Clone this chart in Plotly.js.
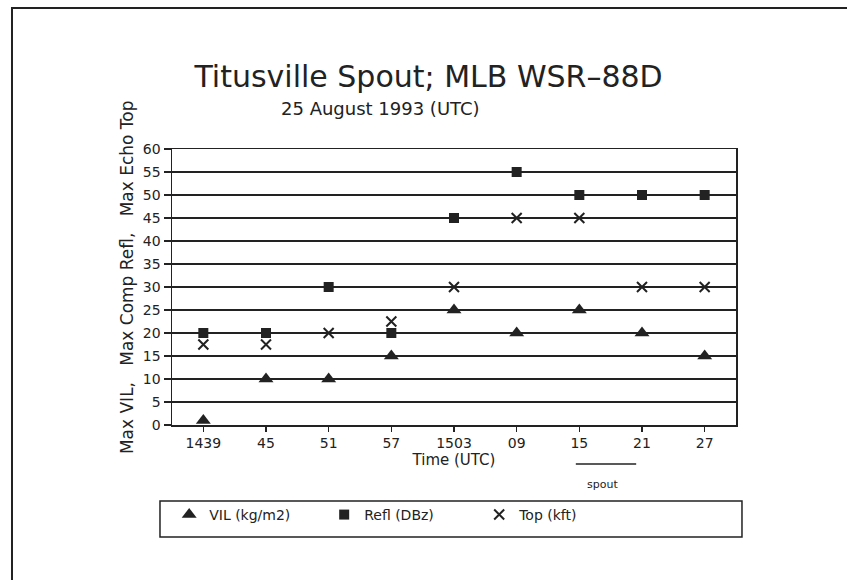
<!DOCTYPE html>
<html>
<head>
<meta charset="utf-8">
<script src="https://cdn.plot.ly/plotly-3.0.1.min.js"></script>
<style>html,body{margin:0;padding:0;background:#fff;}#chart{width:847px;height:580px;}</style>
</head>
<body>
<div id="chart"></div>
<script>
// Data
const times = ['1439', '45', '51', '57', '1503', '09', '15', '21', '27'];
const vil   = [1, 10, 10, 15, 25, 20, 25, 20, 15];
const refl  = [20, 20, 30, 20, 45, 55, 50, 50, 50];
const topKft = [17.5, 17.5, 20, 22.5, 30, 45, 45, 30, 30];
const yTicks = [0, 5, 10, 15, 20, 25, 30, 35, 40, 45, 50, 55, 60];

const ink = '#222';
const FONT = 'DejaVu Sans, sans-serif';
const sp = '\u00a0';

const traces = [
  {x: times, y: vil, name: 'VIL (kg/m2)', type: 'scatter', mode: 'markers',
   marker: {symbol: 'triangle-up', size: 13, color: ink}},
  {x: times, y: refl, name: 'Refl (DBz)', type: 'scatter', mode: 'markers',
   marker: {symbol: 'square', size: 10, color: ink}},
  {x: times, y: topKft, name: 'Top (kft)', type: 'scatter', mode: 'markers',
   marker: {symbol: 'x-thin', size: 10, color: ink, line: {width: 2, color: ink}}}
];

const layout = {
  width: 847, height: 580,
  margin: {l: 172, r: 111, t: 149, b: 155},
  paper_bgcolor: '#fff', plot_bgcolor: '#fff',
  font: {family: FONT, color: ink, size: 14},
  title: {text: 'Titusville Spout; MLB WSR\u201388D', font: {size: 30, family: FONT, color: ink},
          x: 0.506, xanchor: 'center', y: 0.868, yanchor: 'middle', xref: 'container', yref: 'container'},
  showlegend: true,
  legend: {orientation: 'h', x: -0.005, xanchor: 'left', y: -0.326, yanchor: 'middle',
           bgcolor: 'rgba(0,0,0,0)', borderwidth: 0, font: {size: 14, family: FONT, color: ink},
           entrywidth: 110, entrywidthmode: 'pixels'},
  xaxis: {type: 'category', categoryorder: 'array', categoryarray: times,
          range: [-0.5, 8.5], showgrid: false, zeroline: false,
          showline: true, linecolor: ink, linewidth: 1.5, mirror: true,
          ticks: 'outside', ticklen: 5, tickwidth: 1.3, tickcolor: ink,
          tickfont: {size: 14, family: FONT, color: ink},
          title: {text: 'Time (UTC)', font: {size: 15, family: FONT, color: ink}, standoff: 0}},
  yaxis: {range: [0, 60], tickvals: yTicks, showgrid: true, gridcolor: ink, gridwidth: 1.3,
          zeroline: false, showline: true, linecolor: ink, linewidth: 1.5, mirror: true,
          ticks: 'outside', ticklen: 7, tickwidth: 1.3, tickcolor: ink,
          tickfont: {size: 14, family: FONT, color: ink}},
  annotations: [
    // y-axis title
    {text: 'Max VIL,' + sp.repeat(3) + 'Max Comp Refl,' + sp.repeat(3) + 'Max Echo Top',
     xref: 'paper', yref: 'paper', x: -0.0798, y: 0.536, textangle: -90,
     xanchor: 'center', yanchor: 'middle', showarrow: false, font: {size: 17, family: FONT, color: ink}},
    {text: '25 August 1993 (UTC)', xref: 'paper', yref: 'paper', x: 0.369, y: 1.148,
     xanchor: 'center', yanchor: 'middle', showarrow: false, font: {size: 18, family: FONT, color: ink}},
    {text: 'spout', xref: 'paper', yref: 'paper', x: 0.764, y: -0.216,
     xanchor: 'center', yanchor: 'middle', showarrow: false, font: {size: 11, family: FONT, color: ink}}
  ],
  shapes: [
    // spout period bar
    {type: 'line', xref: 'paper', yref: 'paper', x0: 0.716, x1: 0.823, y0: -0.1413, y1: -0.1413,
     line: {color: ink, width: 1.5}},
    // legend box
    {type: 'rect', xref: 'paper', yref: 'paper', x0: -0.0213, x1: 1.0106, y0: -0.4058, y1: -0.2754,
     line: {color: ink, width: 1.5}, fillcolor: 'rgba(0,0,0,0)'},
    // outer frame (top and left edges)
    {type: 'path', xref: 'paper', yref: 'paper', path: 'M -0.2837,-0.57 L -0.2837,1.5109 L 1.2,1.5109',
     line: {color: ink, width: 2}}
  ]
};

Plotly.newPlot('chart', traces, layout, {staticPlot: true, displayModeBar: false});
</script>
</body>
</html>
